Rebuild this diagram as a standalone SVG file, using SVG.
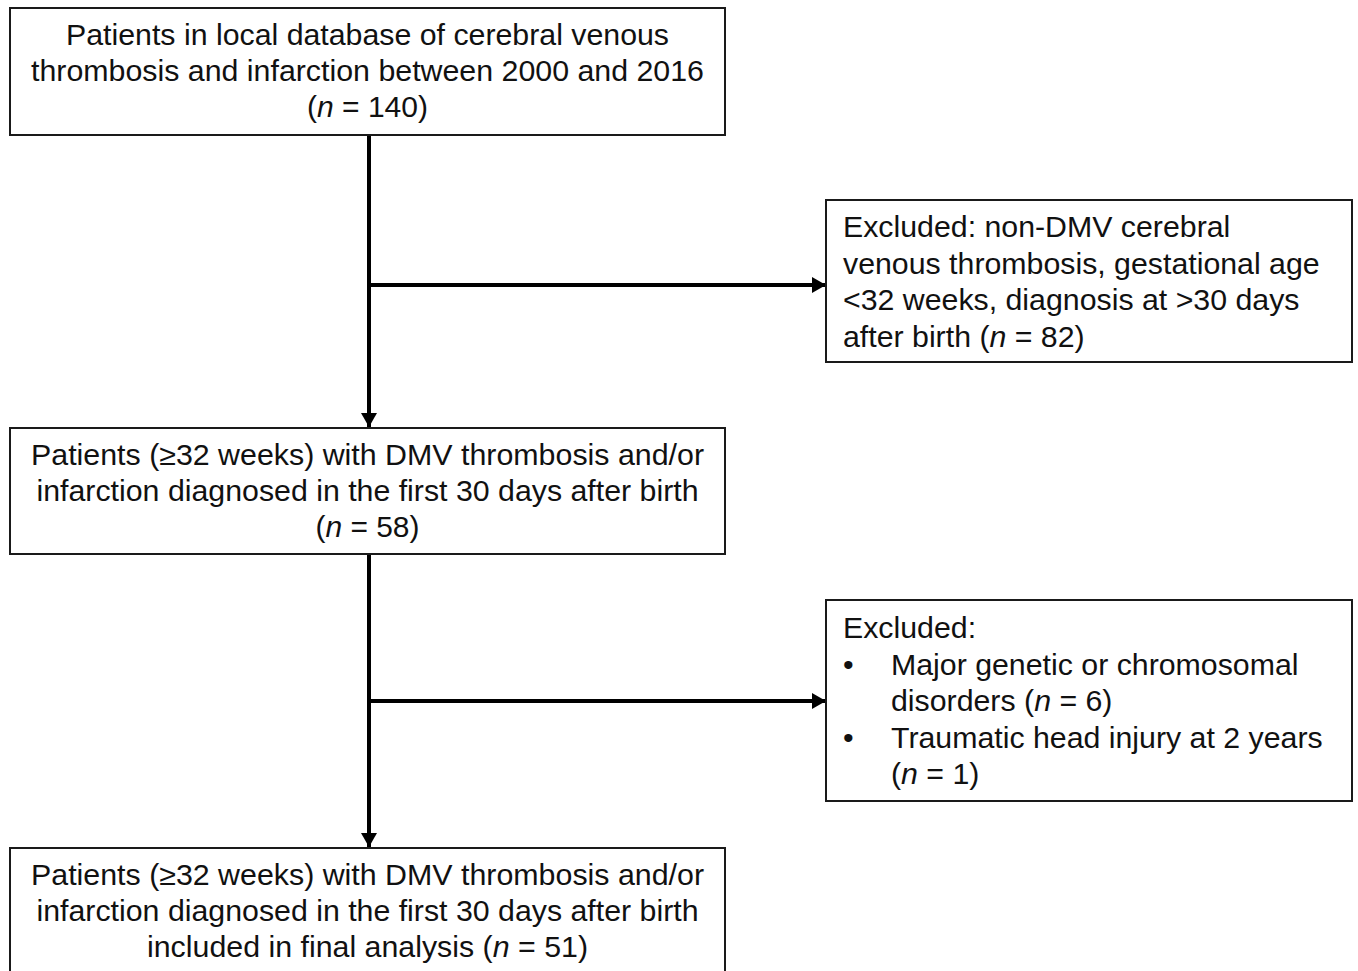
<svg xmlns="http://www.w3.org/2000/svg" width="1358" height="971" viewBox="0 0 1358 971">
<style>
.box{fill:#fff;stroke:#1a1a1a;stroke-width:2}
.t{font-family:"Liberation Sans",Arial,sans-serif;font-size:29px;fill:#111}
.c{text-anchor:middle}
.r{font-size:30.3px}
.i{font-style:italic}
.ln{stroke:#000;stroke-width:4;fill:none}
</style>
<defs>
<marker id="ah" markerUnits="userSpaceOnUse" markerWidth="18" markerHeight="18" refX="14" refY="9" orient="auto">
<path d="M0,1 L14,9 L0,17 Z" fill="#000"/>
</marker>
</defs>
<rect width="1358" height="971" fill="#fff"/>
<g id="connectors">
<line class="ln" x1="369" y1="135" x2="369" y2="427" marker-end="url(#ah)"/>
<line class="ln" x1="369" y1="285" x2="826" y2="285" marker-end="url(#ah)"/>
<line class="ln" x1="369" y1="554" x2="369" y2="847" marker-end="url(#ah)"/>
<line class="ln" x1="369" y1="701" x2="826" y2="701" marker-end="url(#ah)"/>
</g>
<g id="n1">
<rect class="box" x="10" y="8" width="715" height="127"/>
<text class="t c" x="367.5" y="45" textLength="603" lengthAdjust="spacingAndGlyphs">Patients in local database of cerebral venous</text>
<text class="t c" x="367.5" y="81" textLength="673" lengthAdjust="spacingAndGlyphs">thrombosis and infarction between 2000 and 2016</text>
<text class="t c" x="367.5" y="117" textLength="121" lengthAdjust="spacingAndGlyphs">(<tspan class="i">n</tspan> = 140)</text>
</g>
<g id="n2">
<rect class="box" x="826" y="200" width="526" height="162"/>
<text class="t r" x="843" y="237">Excluded: non-DMV cerebral</text>
<text class="t r" x="843" y="274">venous thrombosis, gestational age</text>
<text class="t r" x="843" y="310">&lt;32 weeks, diagnosis at &gt;30 days</text>
<text class="t r" x="843" y="347">after birth (<tspan class="i">n</tspan> = 82)</text>
</g>
<g id="n3">
<rect class="box" x="10" y="428" width="715" height="126"/>
<text class="t c" x="367.5" y="465" textLength="673" lengthAdjust="spacingAndGlyphs">Patients (≥32 weeks) with DMV thrombosis and/or</text>
<text class="t c" x="367.5" y="501" textLength="662" lengthAdjust="spacingAndGlyphs">infarction diagnosed in the first 30 days after birth</text>
<text class="t c" x="367.5" y="537" textLength="104" lengthAdjust="spacingAndGlyphs">(<tspan class="i">n</tspan> = 58)</text>
</g>
<g id="n4">
<rect class="box" x="826" y="600" width="526" height="201"/>
<text class="t r" x="843" y="638">Excluded:</text>
<text class="t r" x="843" y="675">•</text>
<text class="t r" x="891" y="675">Major genetic or chromosomal</text>
<text class="t r" x="891" y="711">disorders (<tspan class="i">n</tspan> = 6)</text>
<text class="t r" x="843" y="748">•</text>
<text class="t r" x="891" y="748">Traumatic head injury at 2 years</text>
<text class="t r" x="891" y="784">(<tspan class="i">n</tspan> = 1)</text>
</g>
<g id="n5">
<rect class="box" x="10" y="848" width="715" height="130"/>
<text class="t c" x="367.5" y="885" textLength="673" lengthAdjust="spacingAndGlyphs">Patients (≥32 weeks) with DMV thrombosis and/or</text>
<text class="t c" x="367.5" y="921" textLength="662" lengthAdjust="spacingAndGlyphs">infarction diagnosed in the first 30 days after birth</text>
<text class="t c" x="367.5" y="957" textLength="441" lengthAdjust="spacingAndGlyphs">included in final analysis (<tspan class="i">n</tspan> = 51)</text>
</g>
</svg>
